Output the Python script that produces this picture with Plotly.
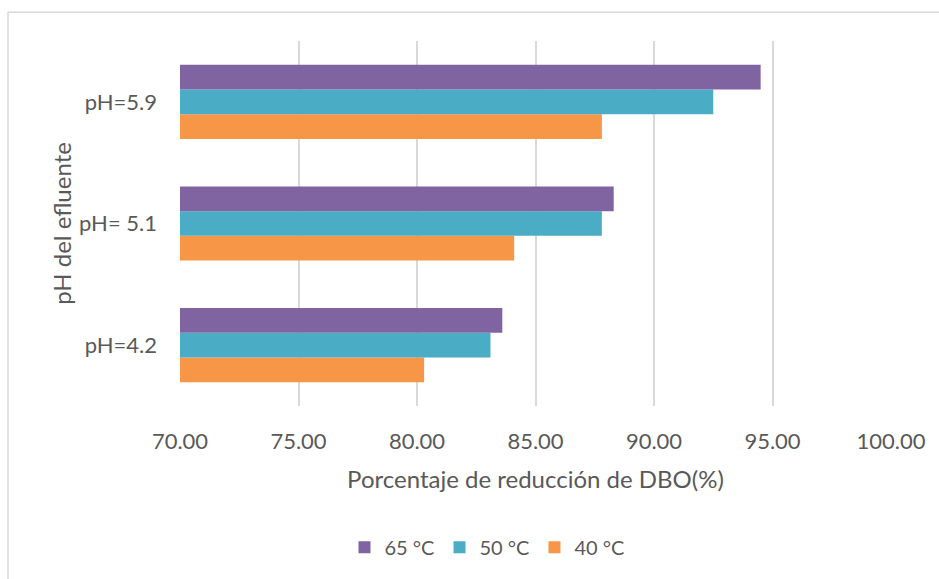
import plotly.graph_objects as go

# Categories (bottom to top) and BOD reduction per temperature
categorias = ["pH=4.2", "pH= 5.1", "pH=5.9"]
temp_40 = [80.3, 84.1, 87.8]
temp_50 = [83.1, 87.8, 92.5]
temp_65 = [83.6, 88.3, 94.5]
ticks_x = [70, 75, 80, 85, 90, 95, 100]
etiquetas_x = ["70.00", "75.00", "80.00", "85.00", "90.00", "95.00", "100.00"]

FONT = "Lato"
GRIS = "#595959"

fig = go.Figure()
series = [
    ("40 °C", temp_40, "#F79646"),
    ("50 °C", temp_50, "#4BACC6"),
    ("65 °C", temp_65, "#8064A2"),
]
for nombre, valores, color in series:
    fig.add_trace(go.Bar(
        y=categorias, x=valores, name=nombre, orientation="h",
        marker=dict(color=color, line=dict(width=0)),
    ))

W, H = 939, 579
L, R, T, B = 180, 48, 41, 171
pw, ph = W - L - R, H - T - B


def px_x(p):
    return (p - L) / pw


def px_y(p):
    return (H - B - p) / ph


fig.update_layout(
    width=W, height=H,
    margin=dict(l=L, r=R, t=T, b=B),
    paper_bgcolor="white", plot_bgcolor="white",
    barmode="group", bargap=0.39, bargroupgap=0,
    font=dict(family=FONT, color=GRIS, size=20),
    showlegend=True,
    legend=dict(
        orientation="h", traceorder="reversed",
        x=px_x(487), xanchor="center", y=px_y(550), yanchor="middle",
        font=dict(size=20, color=GRIS), itemwidth=30,
    ),
    xaxis=dict(
        range=[70, 100], tickvals=ticks_x, ticktext=etiquetas_x,
        showgrid=True, gridcolor="#d9d9d9", gridwidth=1.5,
        zeroline=False, showline=False, ticks="",
        ticklabelstandoff=20,
        tickfont=dict(size=22, color=GRIS),
        title=dict(text="Porcentaje de reducción de DBO(%)",
                   font=dict(size=24, color=GRIS), standoff=18),
    ),
    yaxis=dict(
        type="category", categoryorder="array", categoryarray=categorias,
        showgrid=False, zeroline=False, showline=False, ticks="",
        ticklabelstandoff=22,
        tickfont=dict(size=22, color=GRIS),
        title=dict(text="pH del efluente",
                   font=dict(size=24, color=GRIS), standoff=0),
    ),
    shapes=[dict(
        type="rect", xref="paper", yref="paper",
        x0=px_x(8), x1=px_x(W + 20), y0=px_y(H + 20), y1=px_y(12),
        line=dict(color="#d9d9d9", width=1.5), fillcolor="rgba(0,0,0,0)",
        layer="below",
    )],
)

fig.write_html("out.html")
